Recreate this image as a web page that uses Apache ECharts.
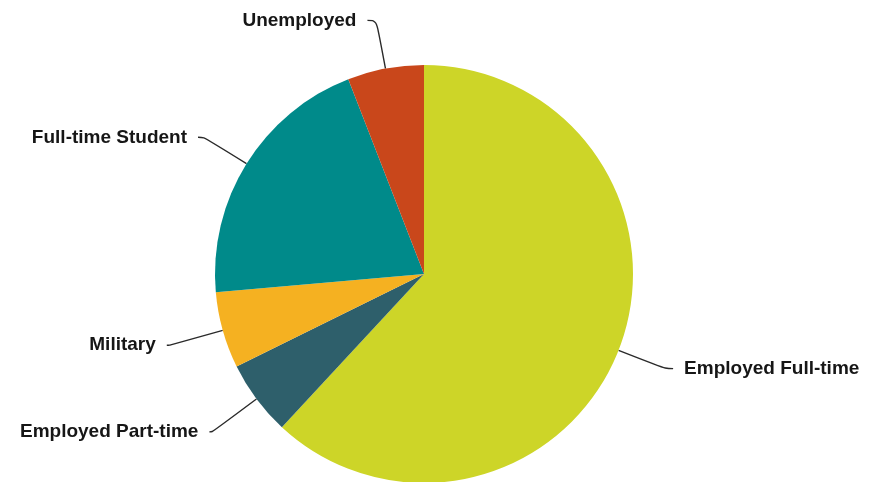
<!DOCTYPE html>
<html>
<head>
<meta charset="utf-8">
<script src="https://cdn.jsdelivr.net/npm/echarts@6/dist/echarts.min.js"></script>
<style>
  html, body { margin: 0; padding: 0; background: #ffffff; }
  #chart { width: 874px; height: 482px; }
</style>
</head>
<body>
<div id="chart"></div>
<script>
// Employment status breakdown (percent of respondents)
const categories = ['Employed Full-time', 'Employed Part-time', 'Military', 'Full-time Student', 'Unemployed'];
const shares = [61.9, 5.8, 5.9, 20.5, 5.9];

const colors = ['#cdd528', '#2e5f6b', '#f5b121', '#008a8a', '#c9471b'];
// leader line lengths per slice: [radial, horizontal]
const leaderLengths = [[50, 8], [55, 3], [55, 3], [50, 6], [49, 9]];

const chart = echarts.init(document.getElementById('chart'), null, { renderer: 'canvas' });

chart.setOption({
  animation: false,
  series: [{
    type: 'pie',
    center: [424, 274],
    radius: 209,
    startAngle: 90,
    clockwise: true,
    avoidLabelOverlap: false,
    itemStyle: { borderWidth: 0 },
    label: {
      show: true,
      formatter: '{b}',
      color: '#161616',
      fontFamily: 'Liberation Sans, Arial, sans-serif',
      fontWeight: 'bold',
      fontSize: 19,
      distanceToLabelLine: 11
    },
    labelLine: {
      show: true,
      smooth: 0.4,
      lineStyle: { color: '#2a2a2a', width: 1.4 }
    },
    data: categories.map((name, i) => ({
      name: name,
      value: shares[i],
      itemStyle: { color: colors[i] },
      labelLine: { length: leaderLengths[i][0], length2: leaderLengths[i][1] }
    }))
  }]
});
</script>
</body>
</html>
